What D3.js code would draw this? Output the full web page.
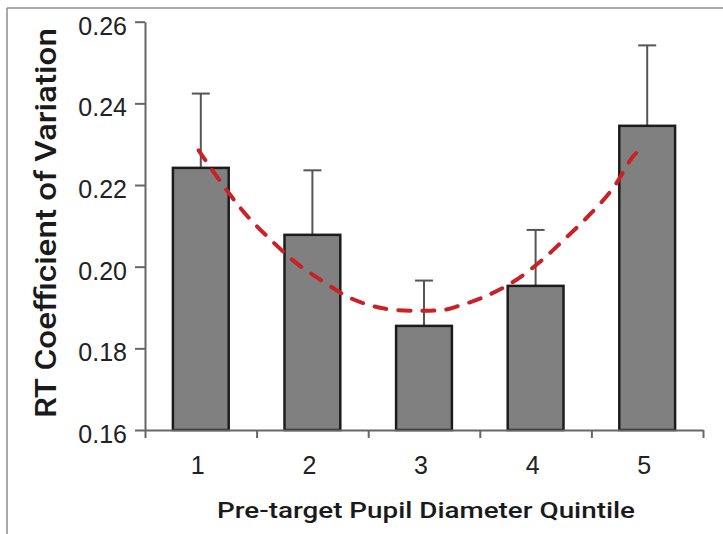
<!DOCTYPE html>
<html>
<head>
<meta charset="utf-8">
<script src="https://d3js.org/d3.v7.min.js"></script>
<style>
  html, body { margin: 0; padding: 0; background: #fff; }
  svg { display: block; }
</style>
</head>
<body>
<div id="chart"></div>
<script>
// Data
const quintiles = ['1', '2', '3', '4', '5'];
const cvMeans = [0.2242, 0.2078, 0.1855, 0.1953, 0.2345];
const cvErrors = [0.0182, 0.0158, 0.0111, 0.0137, 0.0197];
const yTicks = [0.16, 0.18, 0.20, 0.22, 0.24, 0.26];

// Red dashed quadratic trend (x in quintile units)
const trendX = [0.98, 1.23, 1.41, 1.63, 1.86, 2.10, 2.35, 2.63, 2.96, 3.20, 3.29, 3.54, 3.80, 4.04, 4.25, 4.48, 4.69, 4.87, 4.93];
const trendY = [0.2285, 0.2188, 0.2126, 0.2065, 0.2008, 0.1963, 0.1922, 0.1898, 0.1892, 0.1895, 0.1902, 0.1926, 0.1963, 0.2012, 0.2065, 0.2126, 0.2191, 0.2269, 0.2285];

const width = 723, height = 534;
const plotLeft = 145, plotRight = 703, plotTop = 21.7, plotBottom = 430;

const svg = d3.select('#chart').append('svg')
    .attr('width', width)
    .attr('height', height);

// Frame lines of the original image
svg.append('line')
    .attr('x1', 7).attr('x2', width).attr('y1', 8).attr('y2', 8)
    .attr('stroke', '#8c8c8c').attr('stroke-width', 1.5);
svg.append('line')
    .attr('x1', 7).attr('x2', 7).attr('y1', 8).attr('y2', height)
    .attr('stroke', '#8c8c8c').attr('stroke-width', 1.5);

const x = d3.scaleBand()
    .domain(quintiles)
    .range([plotLeft, plotRight])
    .paddingInner(0.5)
    .paddingOuter(0.25);

const xPos = d3.scaleLinear()
    .domain([0.5, quintiles.length + 0.5])
    .range([plotLeft, plotRight]);

const y = d3.scaleLinear()
    .domain([0.16, 0.26])
    .range([plotBottom, plotTop]);

const font = '"Liberation Sans", Arial, Helvetica, sans-serif';
const titleFont = 'Roboto, "Liberation Sans", Arial, sans-serif';

// Error bars (upper half only, drawn behind bars)
const errG = svg.append('g')
    .attr('stroke', '#555')
    .attr('stroke-width', 2);

quintiles.forEach((q, i) => {
    const cx = x(q) + x.bandwidth() / 2;
    errG.append('line')
        .attr('x1', cx).attr('x2', cx)
        .attr('y1', y(cvMeans[i])).attr('y2', y(cvMeans[i] + cvErrors[i]));
    errG.append('line')
        .attr('x1', cx - 9).attr('x2', cx + 9)
        .attr('y1', y(cvMeans[i] + cvErrors[i])).attr('y2', y(cvMeans[i] + cvErrors[i]));
});

// Bars
svg.append('g')
    .selectAll('rect')
    .data(quintiles)
    .join('rect')
    .attr('x', d => x(d))
    .attr('width', x.bandwidth())
    .attr('y', (d, i) => y(cvMeans[i]))
    .attr('height', (d, i) => y(0.16) - y(cvMeans[i]))
    .attr('fill', '#808080')
    .attr('stroke', '#1c1c1c')
    .attr('stroke-width', 2.5);

// Trend line
const trendLine = d3.line()
    .x(d => xPos(d[0]))
    .y(d => y(d[1]))
    .curve(d3.curveCatmullRom);

svg.append('path')
    .datum(trendX.map((v, i) => [v, trendY[i]]))
    .attr('d', trendLine)
    .attr('fill', 'none')
    .attr('stroke', '#cc2027')
    .attr('stroke-width', 4)
    .attr('stroke-linecap', 'round')
    .attr('stroke-dasharray', '12,12');

// Y axis
const yAxis = svg.append('g')
    .attr('transform', `translate(${plotLeft},0)`)
    .call(d3.axisLeft(y).tickValues(yTicks).tickFormat(d3.format('.2f')).tickSize(10).tickSizeOuter(0));

// X axis: ticks at category boundaries
const boundaries = d3.range(quintiles.length + 1).map(i => i + 0.5);
const xAxis = svg.append('g')
    .attr('transform', `translate(0,${plotBottom})`)
    .call(d3.axisBottom(xPos).tickValues(boundaries).tickFormat('').tickSize(8).tickSizeOuter(0));

[yAxis, xAxis].forEach(ax => {
    ax.select('.domain').attr('stroke', '#666').attr('stroke-width', 2);
    ax.selectAll('.tick line').attr('stroke', '#666').attr('stroke-width', 2);
});

yAxis.selectAll('.tick text')
    .attr('x', -18)
    .attr('dy', '0.5em')
    .style('font-family', font)
    .style('font-size', '25px')
    .style('fill', '#222');

// Category labels
svg.append('g')
    .selectAll('text')
    .data(quintiles)
    .join('text')
    .attr('x', d => x(d) + x.bandwidth() / 2 - 3)
    .attr('y', 474)
    .attr('text-anchor', 'middle')
    .style('font-family', font)
    .style('font-size', '25px')
    .style('fill', '#222')
    .text(d => d);

// Axis titles
svg.append('text')
    .attr('transform', 'translate(56,223) rotate(-90)')
    .attr('text-anchor', 'middle')
    .attr('textLength', 390)
    .attr('lengthAdjust', 'spacingAndGlyphs')
    .style('font-family', titleFont)
    .style('font-weight', 500)
    .style('font-size', '29px')
    .style('fill', '#1a1a1a')
    .text('RT Coefficient of Variation');

svg.append('text')
    .attr('x', 426)
    .attr('y', 518)
    .attr('text-anchor', 'middle')
    .attr('textLength', 418)
    .attr('lengthAdjust', 'spacingAndGlyphs')
    .style('font-family', titleFont)
    .style('font-weight', 500)
    .style('font-size', '22.5px')
    .style('fill', '#1a1a1a')
    .text('Pre-target Pupil Diameter Quintile');
</script>
</body>
</html>
